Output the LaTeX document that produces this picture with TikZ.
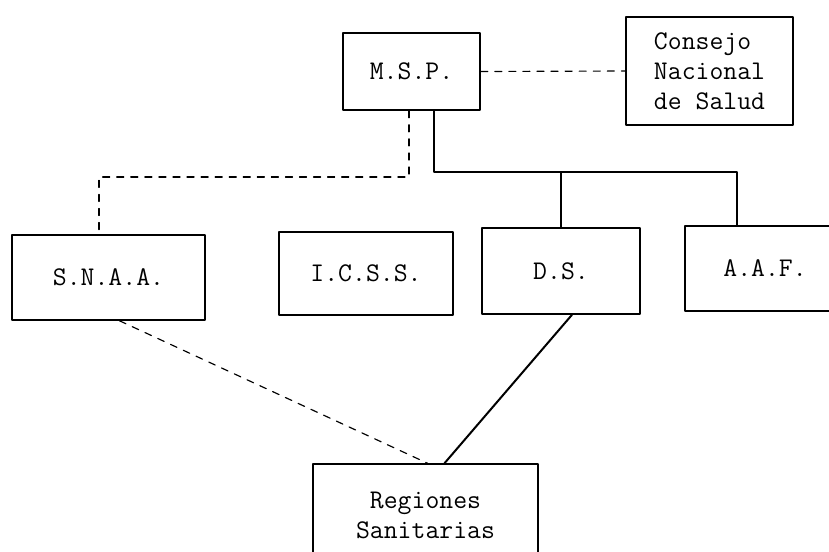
\documentclass[tikz,border=0pt]{standalone}
\usetikzlibrary{calc}
\begin{document}
\begin{tikzpicture}[x=0.03cm, y=-0.03cm, font=\fontsize{23}{25.5}\selectfont\ttfamily, line join=round, line cap=round,
		unit/.style={draw, line width=1.3pt, inner sep=0pt, align=center},
		dashline/.style={line width=1pt, dash pattern=on 6pt off 6pt}]
	\useasboundingbox (0,0) rectangle (829,551);
	\node[unit, minimum width=137*0.03cm, minimum height=77*0.03cm] (msp) at (411.5,71.5) {M.S.P.};
	\node[unit, align=left, minimum width=167*0.03cm, minimum height=108*0.03cm] (cns) at (709.5,71) {Consejo\\Nacional\\de Salud};
	\node[unit, minimum width=193*0.03cm, minimum height=85*0.03cm] (snaa) at (108.5,277.5) {S.N.A.A.};
	\node[unit, minimum width=174*0.03cm, minimum height=83*0.03cm] (icss) at (366,273.5) {I.C.S.S.};
	\node[unit, minimum width=158*0.03cm, minimum height=86*0.03cm] (ds) at (561,271) {D.S.};
	\node[unit, minimum width=160*0.03cm, minimum height=85*0.03cm] (aaf) at (765,268.5) {A.A.F.};
	\node[unit, minimum width=225*0.03cm, minimum height=102*0.03cm] (reg) at (425.5,515) {Regiones\\Sanitarias};
	\coordinate (bus) at (434,172);
	\coordinate (busend) at (737,172);
	\coordinate (dbus) at (409,177);
	\coordinate (dbusend) at (99,177);
	\draw[dashline] (msp.east) -- (cns.west);
	\draw[line width=1.1pt] (msp.south -| bus) -- (bus) -- (busend) -- (aaf.north -| busend);
	\draw[line width=1.1pt] (ds.north) -- (ds.north |- bus);
	\draw[dashline] (msp.south -| dbus) -- (dbus) -- (dbusend) -- (snaa.north -| dbusend);
	\draw[dashline] ($(snaa.south)+(11,0)$) -- ($(reg.north)+(2,0)$);
	\draw[line width=1.7pt] ($(ds.south)+(11,0)$) -- ($(reg.north)+(19,0)$);
\end{tikzpicture}
\end{document}
